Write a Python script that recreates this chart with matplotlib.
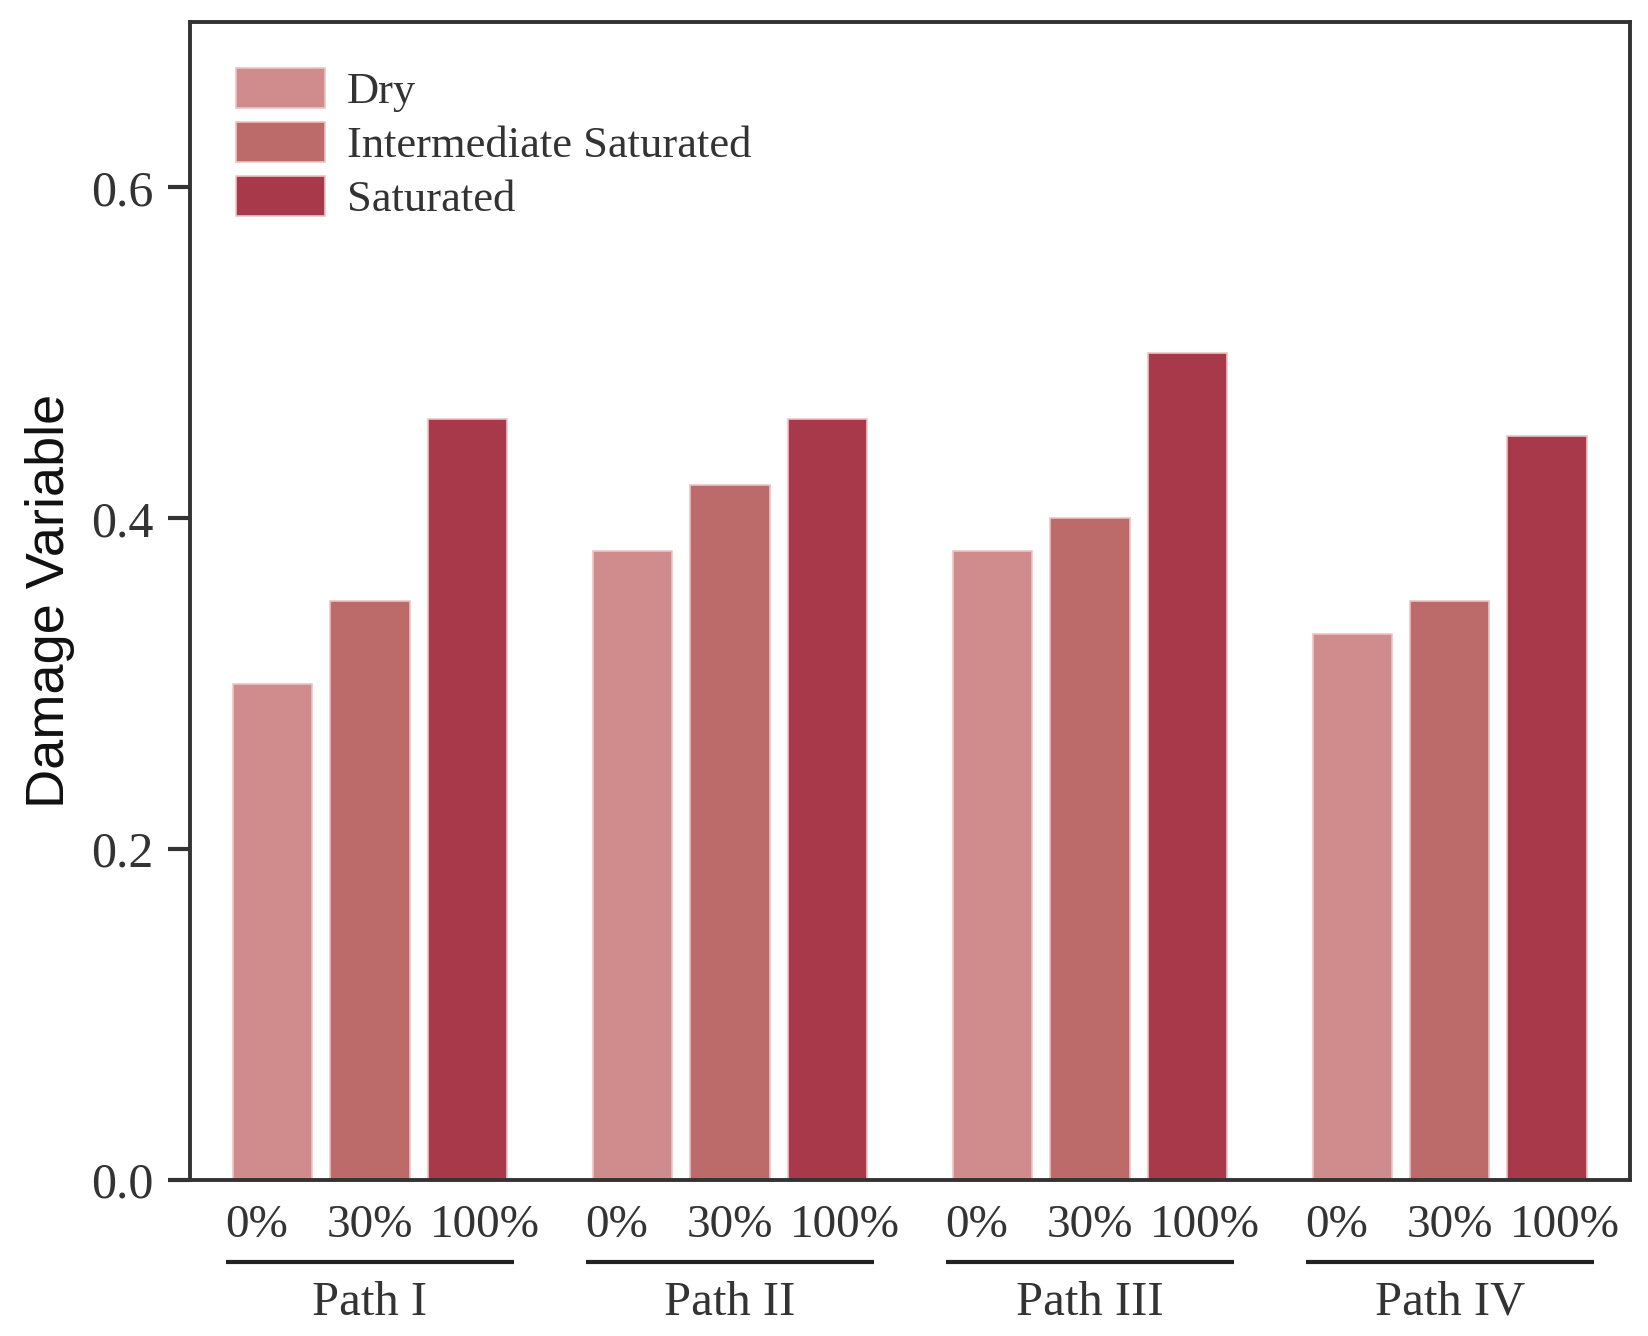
import matplotlib.pyplot as plt
import matplotlib.transforms as mtransforms
import numpy as np

# dati
percorsi = ["Path I", "Path II", "Path III", "Path IV"]
condizioni = ["Dry", "Intermediate Saturated", "Saturated"]
etichette_x = ["0%", "30%", "100%"]
dry = [0.30, 0.38, 0.38, 0.33]
intermedio = [0.35, 0.42, 0.40, 0.35]
saturo = [0.46, 0.46, 0.50, 0.45]
colori = ["#D08C8C", "#BD6A6A", "#A8394A"]

serie = [dry, intermedio, saturo]

fig = plt.figure(figsize=(16.48, 13.36), dpi=100)
ax = fig.add_axes([0.1153, 0.1168, 0.989 - 0.1153, 0.9835 - 0.1168])

x = np.arange(len(percorsi))
passo = 0.27
larghezza = 0.22
for i, (valori, nome, col) in enumerate(zip(serie, condizioni, colori)):
    ax.bar(x + (i - 1) * passo, valori, width=larghezza, color=col,
           edgecolor="#EBC4C4", linewidth=1.2, label=nome, zorder=2)

ax.set_xlim(-0.5, 3.5)
ax.set_ylim(0, 0.7)
ax.set_yticks([0.0, 0.2, 0.4, 0.6])
ax.set_yticklabels(["0.0", "0.2", "0.4", "0.6"], fontfamily="Liberation Serif",
                   fontsize=36, color="#333333")
ax.tick_params(axis="y", length=16, width=3, color="#333333", pad=10)

# etichette sotto le barre (leggermente spostate come nell'originale)
spost = [-0.045, 0.0, 0.05]
pos_x = np.concatenate([x + (i - 1) * passo + spost[i] for i in range(3)])
lab_x = [etichette_x[i] for i in range(3) for _ in percorsi]
ax.set_xticks(pos_x)
ax.set_xticklabels(lab_x, fontfamily="Liberation Serif", fontsize=34, color="#333333")
ax.tick_params(axis="x", length=0, pad=18)

for lato in ["left", "right", "top", "bottom"]:
    ax.spines[lato].set_linewidth(2.8)
    ax.spines[lato].set_color("#333333")

ax.set_ylabel("Damage Variable", fontfamily="Liberation Sans", fontsize=39,
              color="#111111", labelpad=12)

# linee e nomi dei percorsi
trans = mtransforms.blended_transform_factory(ax.transData, ax.transAxes)
for xi, nome in zip(x, percorsi):
    sx = xi - passo - larghezza / 2 - 0.02
    dx = xi + passo + larghezza / 2 + 0.02
    ax.plot([sx, dx], [-0.0708, -0.0708], transform=trans, color="#222222",
            linewidth=3, clip_on=False, solid_capstyle="butt")
    ax.text(xi, -0.106, nome, transform=trans, ha="center", va="center",
            fontfamily="Liberation Serif", fontsize=35, color="#333333")

leg = ax.legend(loc="upper left", bbox_to_anchor=(46 / 1440, 1 - 46 / 1158),
                frameon=False, borderaxespad=0, borderpad=0,
                handlelength=2.0, handleheight=1.0, labelspacing=0.22,
                handletextpad=0.5, prop={"family": "Liberation Serif", "size": 32})
for t in leg.get_texts():
    t.set_color("#333333")

fig.savefig("out.png", dpi=100)
